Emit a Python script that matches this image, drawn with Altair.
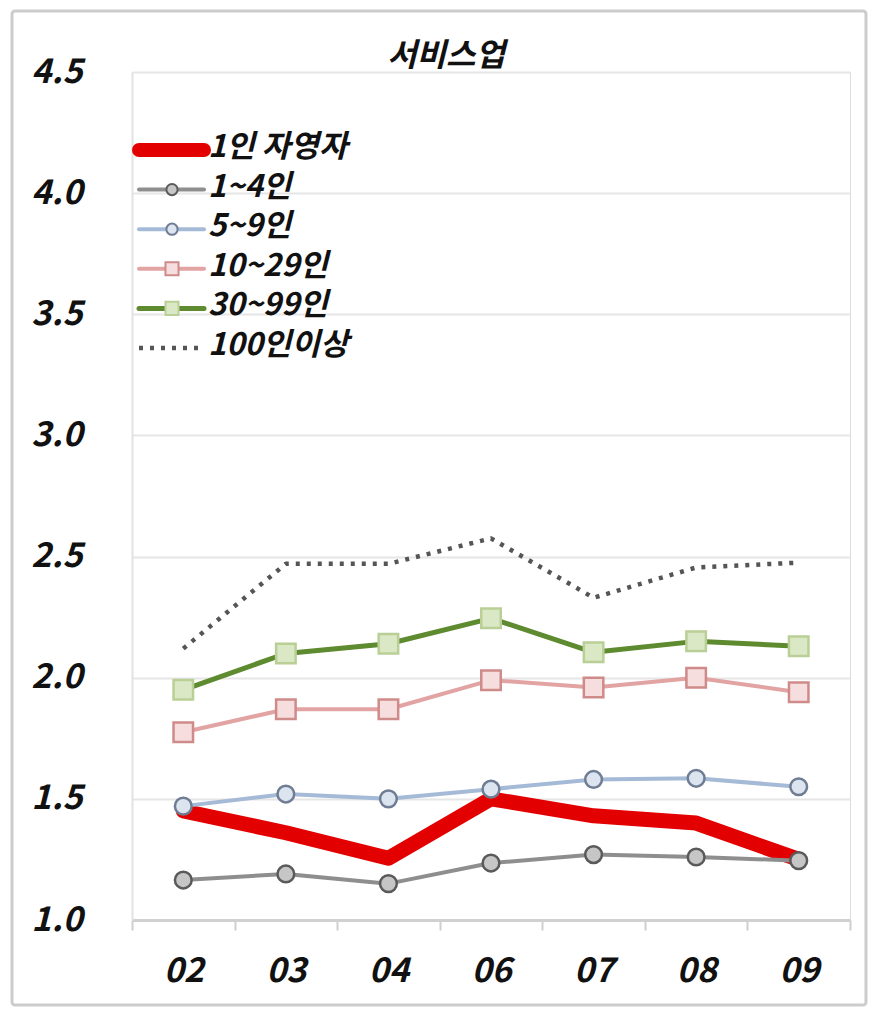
import altair as alt
import pandas as pd

YEARS = ["02", "03", "04", "06", "07", "08", "09"]
SERIES = ["1인 자영자", "1~4인", "5~9인", "10~29인", "30~99인", "100인이상"]
TITLE = "서비스업"

self_employed = [1.45, 1.36, 1.255, 1.50, 1.43, 1.40, 1.25]
emp_1_4 = [1.165, 1.19, 1.15, 1.235, 1.27, 1.26, 1.245]
emp_5_9 = [1.47, 1.52, 1.50, 1.54, 1.58, 1.585, 1.55]
emp_10_29 = [1.775, 1.87, 1.87, 1.99, 1.96, 2.00, 1.94]
emp_30_99 = [1.95, 2.10, 2.14, 2.245, 2.105, 2.15, 2.13]
emp_100 = [2.12, 2.47, 2.47, 2.575, 2.33, 2.455, 2.475]

Y_TICKS = [1.0, 1.5, 2.0, 2.5, 3.0, 3.5, 4.0, 4.5]
FONT = "Noto Sans CJK KR"

x_axis = alt.Axis(title=None, labelAngle=0, labelFont=FONT, labelFontSize=34,
                  labelFontWeight="bold", labelFontStyle="italic", labelColor="#111111",
                  labelPadding=24, tickBand="extent", ticks=True, tickSize=10, tickWidth=2,
                  tickColor="#cfcfcf", domainColor="#d0d0d0", domainWidth=3, grid=False)
x_scale = alt.Scale(type="band", domain=YEARS, paddingInner=0, paddingOuter=0)
y_scale = alt.Scale(domain=[1.0, 4.5], nice=False, zero=False)


def xenc():
    return alt.X("year:O", sort=YEARS, bandPosition=0.5, scale=x_scale, axis=x_axis)


def yenc(show_axis=False):
    if show_axis:
        ax = alt.Axis(title=None, values=Y_TICKS, format=".1f", labelFont=FONT, labelFontSize=34,
                      labelFontWeight="bold", labelFontStyle="italic", labelColor="#111111",
                      labelPadding=50, ticks=False, domainColor="#e2e2e2", domainWidth=2,
                      grid=True, gridColor="#e6e6e6", gridWidth=2)
        return alt.Y("value:Q", scale=y_scale, axis=ax)
    return alt.Y("value:Q", scale=y_scale, axis=None)


legend_y = alt.Y("series:N", scale=alt.Scale(type="point", domain=SERIES, range=[78, 276], padding=0),
                 axis=None)

layers = []


def add_series(name, values, color, width, dash=None, shape=None, mfill=None, mstroke=None,
               msize=260, first=False):
    df = pd.DataFrame({"year": YEARS, "value": values, "series": name})
    line_kwargs = dict(color=color, strokeWidth=width, strokeJoin="round", strokeCap="round")
    if dash:
        line_kwargs["strokeDash"] = dash
        line_kwargs["strokeCap"] = "butt"
    layers.append(alt.Chart(df).mark_line(**line_kwargs).encode(x=xenc(), y=yenc(first)))
    if shape:
        layers.append(alt.Chart(df).mark_point(shape=shape, filled=True, fill=mfill, stroke=mstroke,
                                               strokeWidth=2.5, size=msize, opacity=1)
                      .encode(x=xenc(), y=yenc()))
    # legend entry
    ldf = pd.DataFrame({"series": [name]})
    rule_kwargs = dict(color=color, strokeWidth=min(width, 14), strokeCap="round")
    if dash:
        rule_kwargs["strokeDash"] = dash
        rule_kwargs["strokeCap"] = "butt"
    layers.append(alt.Chart(ldf).mark_rule(**rule_kwargs)
                  .encode(x=alt.value(7), x2=alt.value(72), y=legend_y))
    if shape:
        layers.append(alt.Chart(ldf).mark_point(shape=shape, filled=True, fill=mfill, stroke=mstroke,
                                                strokeWidth=2, size=msize * 0.45, opacity=1)
                      .encode(x=alt.value(40), y=legend_y))


add_series("100인이상", emp_100, "#555555", 4.5, dash=[4, 7])
add_series("1인 자영자", self_employed, "#e30000", 15)
add_series("30~99인", emp_30_99, "#5e8a30", 5, shape="square", mfill="#dbe8c6", mstroke="#b9cf95",
           msize=380)
add_series("10~29인", emp_10_29, "#e2a3a3", 4, shape="square", mfill="#f7dede", mstroke="#cf8a8a",
           msize=380)
add_series("5~9인", emp_5_9, "#a5bad6", 4, shape="circle", mfill="#dbe4ef", mstroke="#6f7d94",
           msize=280)
add_series("1~4인", emp_1_4, "#8e8e8e", 4, shape="circle", mfill="#c6c6c6", mstroke="#5a5a5a",
           msize=280, first=True)

legend_text = alt.Chart(pd.DataFrame({"series": SERIES})).mark_text(
    align="left", baseline="middle", font=FONT, fontSize=31, fontWeight="bold",
    fontStyle="italic", color="#111111", dy=-2
).encode(x=alt.value(76), y=legend_y, text="series:N")

title_text = alt.Chart(pd.DataFrame({"t": [TITLE]})).mark_text(
    align="center", baseline="middle", font=FONT, fontSize=32, fontWeight="bold",
    fontStyle="italic", color="#111111"
).encode(x=alt.value(314), y=alt.value(-16), text="t:N")

frame = alt.Chart(pd.DataFrame({"k": [0]})).mark_rect(
    filled=False, stroke="#cccccc", strokeWidth=3, cornerRadius=3
).encode(x=alt.value(-120), x2=alt.value(734), y=alt.value(-61), y2=alt.value(933))

chart = alt.layer(frame, *layers, legend_text, title_text).resolve_scale(y="independent").properties(
    width=718, height=848,
    autosize=alt.AutoSizeParams(type="none"),
    padding={"left": 124, "top": 64, "right": 22, "bottom": 90},
).configure_view(stroke=None).configure(background="white")

chart.save("out.html", embed_options={"renderer": "svg", "actions": False})
